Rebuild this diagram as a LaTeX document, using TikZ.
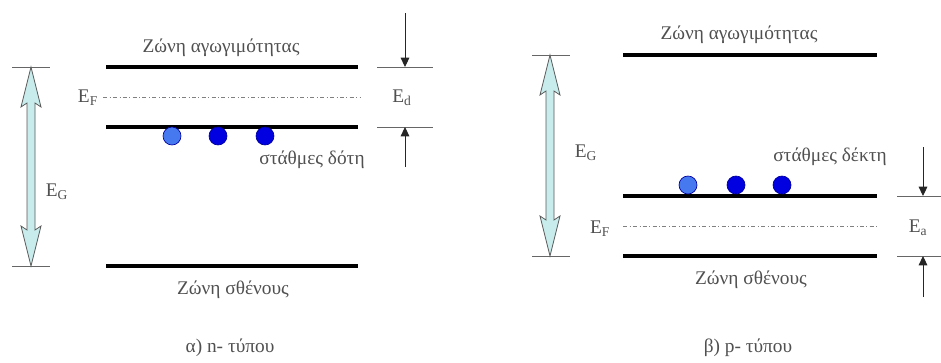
\documentclass[tikz,border=0pt]{standalone}
\usepackage{fontspec}
\setmainfont{Liberation Serif}
\usetikzlibrary{positioning, arrows.meta, calc}
\definecolor{gapCyan}{RGB}{200,236,236}
\definecolor{lightDot}{RGB}{70,120,240}
\definecolor{deepDot}{RGB}{0,0,225}
\definecolor{labelGray}{RGB}{80,80,80}
\tikzset{
	band/.style={line width=3.4pt, draw=black},
	fermi/.style={draw=gray, dash dot, line width=0.6pt},
	tickline/.style={draw=gray!80!black, line width=0.7pt},
	levelarr/.style={-{Triangle[length=7pt, width=6.5pt]}, line width=0.7pt, draw=black!85},
	gaparr/.style={fill=gapCyan, draw=gray!70!black, line width=0.6pt, line join=miter},
	bandlabel/.style={font=\fontsize{14.5}{16}\selectfont, text=labelGray, inner sep=0pt},
	dot/.style={circle, minimum size=13.5pt, inner sep=0pt, draw=deepDot!70!black, line width=0.5pt}
}
\newcommand{\gapArrow}[2]{% top and bottom coordinate
	\draw[gaparr] (#1) -- ($(#1)+(10,40)$) -- ($(#1)+(4,36)$) -- ($(#2)+(4,-36)$)
		-- ($(#2)+(10,-40)$) -- (#2) -- ($(#2)+(-10,-40)$) -- ($(#2)+(-4,-36)$)
		-- ($(#1)+(-4,36)$) -- ($(#1)+(-10,40)$) -- cycle;}

\begin{document}
\begin{tikzpicture}[x=0.75pt, y=-0.75pt]
	\useasboundingbox (0,0) rectangle (941,362);

	% alpha) n-type
	\coordinate (cbA-w) at (106,67);  \coordinate (cbA-e) at (358,67);
	\coordinate (efA-w) at (103,97);  \coordinate (efA-e) at (360,97);
	\coordinate (dlA-w) at (106,127); \coordinate (dlA-e) at (358,127);
	\coordinate (vbA-w) at (106,266); \coordinate (vbA-e) at (358,266);
	\draw[band] (cbA-w) -- (cbA-e);
	\draw[fermi] (efA-w) -- (efA-e);
	\draw[band] (dlA-w) -- (dlA-e);
	\draw[band] (vbA-w) -- (vbA-e);
	\node[dot, fill=lightDot] (dA1) at (172,136) {};
	\node[dot, fill=deepDot] (dA2) at (218,136) {};
	\node[dot, fill=deepDot] (dA3) at (265,136) {};
	\node[bandlabel] (cbA) at (221,48) {Ζώνη αγωγιμότητας};
	\node[bandlabel] (dtA) at (312,160) {στάθμες δότη};
	\node[bandlabel] (vbA) at (233,290) {Ζώνη σθένους};
	\node[bandlabel] (efA) at (88,98) {E\textsubscript{F}};
	\node[bandlabel] (capA) at (230,348) {α) n- τύπου};

	% band gap
	\coordinate (gA-t) at (31,67);  \coordinate (gA-b) at (31,266);
	\draw[tickline] (12,67) -- (50,67);
	\draw[tickline] (12,266) -- (50,266);
	\gapArrow{gA-t}{gA-b}
	\node[bandlabel] (egA) at (57,192) {E\textsubscript{G}};

	% donor energy
	\coordinate (eA-t) at (405,67);  \coordinate (eA-b) at (405,127);
	\coordinate (eA-s1) at (405,13); \coordinate (eA-s2) at (405,167);
	\draw[tickline] (377,67) -- (433,67);
	\draw[tickline] (377,127) -- (433,127);
	\foreach \a/\b in {eA-s1/eA-t, eA-s2/eA-b}
		\draw[levelarr] (\a) -- (\b);
	\node[bandlabel] (edA) at (402,98) {E\textsubscript{d}};

	% beta) p-type
	\coordinate (cbB-w) at (623,55);  \coordinate (cbB-e) at (877,55);
	\coordinate (alB-w) at (623,196); \coordinate (alB-e) at (877,196);
	\coordinate (efB-w) at (623,226); \coordinate (efB-e) at (877,226);
	\coordinate (vbB-w) at (623,256); \coordinate (vbB-e) at (877,256);
	\draw[band] (cbB-w) -- (cbB-e);
	\draw[band] (alB-w) -- (alB-e);
	\draw[fermi] (efB-w) -- (efB-e);
	\draw[band] (vbB-w) -- (vbB-e);
	\node[dot, fill=lightDot] (dB1) at (688,185) {};
	\node[dot, fill=deepDot] (dB2) at (736,185) {};
	\node[dot, fill=deepDot] (dB3) at (782,185) {};
	\node[bandlabel] (cbB) at (739,35) {Ζώνη αγωγιμότητας};
	\node[bandlabel] (dtB) at (830,157) {στάθμες δέκτη};
	\node[bandlabel] (vbB) at (751,280) {Ζώνη σθένους};
	\node[bandlabel] (efB) at (600,229) {E\textsubscript{F}};
	\node[bandlabel] (capB) at (748,348) {β) p- τύπου};

	% band gap
	\coordinate (gB-t) at (550,55);  \coordinate (gB-b) at (550,256);
	\draw[tickline] (532,55) -- (570,55);
	\draw[tickline] (532,256) -- (570,256);
	\gapArrow{gB-t}{gB-b}
	\node[bandlabel] (egB) at (586,153) {E\textsubscript{G}};

	% acceptor energy
	\coordinate (eB-t) at (923,196);  \coordinate (eB-b) at (923,256);
	\coordinate (eB-s1) at (923,147); \coordinate (eB-s2) at (923,297);
	\draw[tickline] (897,196) -- (941,196);
	\draw[tickline] (897,256) -- (941,256);
	\foreach \a/\b in {eB-s1/eB-t, eB-s2/eB-b}
		\draw[levelarr] (\a) -- (\b);
	\node[bandlabel] (eaB) at (918,228) {E\textsubscript{a}};
\end{tikzpicture}
\end{document}
